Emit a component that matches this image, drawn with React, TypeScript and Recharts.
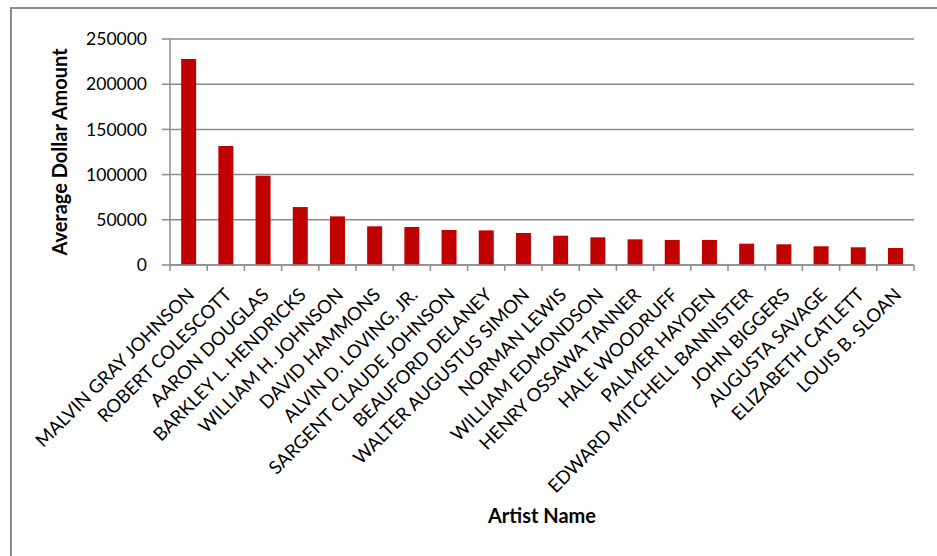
import { BarChart, Bar, XAxis, YAxis, CartesianGrid } from 'recharts'

const artists = [
  'MALVIN GRAY JOHNSON',
  'ROBERT COLESCOTT',
  'AARON DOUGLAS',
  'BARKLEY L. HENDRICKS',
  'WILLIAM H. JOHNSON',
  'DAVID HAMMONS',
  'ALVIN D. LOVING, JR.',
  'SARGENT CLAUDE JOHNSON',
  'BEAUFORD DELANEY',
  'WALTER AUGUSTUS SIMON',
  'NORMAN LEWIS',
  'WILLIAM EDMONDSON',
  'HENRY OSSAWA TANNER',
  'HALE WOODRUFF',
  'PALMER HAYDEN',
  'EDWARD MITCHELL BANNISTER',
  'JOHN BIGGERS',
  'AUGUSTA SAVAGE',
  'ELIZABETH CATLETT',
  'LOUIS B. SLOAN',
]

const averageAmounts = [
  227800, 131600, 98800, 64100, 53800, 42800, 42000, 38700, 38300, 35400,
  32400, 30600, 28400, 27700, 27700, 23600, 22900, 20700, 19600, 18800,
]

const yTicks = [0, 50000, 100000, 150000, 200000, 250000]

const data = artists.map((name, i) => ({ name, amount: averageAmounts[i] }))

const W = 937
const H = 556
const PLOT_TOP = 39
const PLOT_BOTTOM = 265
const PLOT_LEFT = 170
const PLOT_RIGHT = 914
const BAND = (PLOT_RIGHT - PLOT_LEFT) / artists.length
const FONT = 'Lato, "Liberation Sans", sans-serif'
const AXIS_GRAY = '#8c8c8c'

// category ticks sit between the bars, like the spreadsheet original
function ArtistTick({ x, y, payload, index }: any) {
  const half = BAND / 2
  const tx = x + 7
  const ty = y + 31
  return (
    <g>
      <line x1={x - half} y1={y} x2={x - half} y2={y + 6} stroke={AXIS_GRAY} strokeWidth={1.5} />
      {index === artists.length - 1 && (
        <line x1={x + half} y1={y} x2={x + half} y2={y + 6} stroke={AXIS_GRAY} strokeWidth={1.5} />
      )}
      <text
        x={tx}
        y={ty}
        transform={`rotate(-45, ${tx}, ${ty})`}
        textAnchor="end"
        fontFamily={FONT}
        fontSize={18.5}
        fill="#000"
      >
        {payload.value}
      </text>
    </g>
  )
}

const YTitle = ({ viewBox }: any) => {
  const cx = 59
  const cy = viewBox.y + viewBox.height / 2
  return (
    <text
      x={cx}
      y={cy}
      transform={`rotate(-90, ${cx}, ${cy})`}
      textAnchor="middle"
      dominantBaseline="central"
      fontFamily={FONT}
      fontWeight="bold"
      fontSize={20}
      fill="#000"
    >
      Average Dollar Amount
    </text>
  )
}

const XTitle = ({ viewBox }: any) => (
  <text
    x={viewBox.x + viewBox.width / 2}
    y={515}
    textAnchor="middle"
    dominantBaseline="central"
    fontFamily={FONT}
    fontWeight="bold"
    fontSize={20}
    fill="#000"
  >
    Artist Name
  </text>
)

export default function App() {
  return (
    <div
      style={{
        position: 'fixed',
        top: 0,
        left: 0,
        width: W,
        height: H,
        overflow: 'hidden',
        background: '#fff',
      }}
    >
      <div
        style={{
          position: 'absolute',
          left: 10,
          top: 7,
          width: W,
          height: H,
          border: `2px solid ${AXIS_GRAY}`,
        }}
      />
      <div style={{ position: 'absolute', left: 0, top: 0 }}>
        <BarChart
          width={W}
          height={H}
          data={data}
          margin={{ top: PLOT_TOP, right: W - PLOT_RIGHT, left: 0, bottom: 0 }}
          barCategoryGap="30%"
        >
          <CartesianGrid vertical={false} stroke={AXIS_GRAY} strokeWidth={1.5} />
          <XAxis
            dataKey="name"
            interval={0}
            height={H - PLOT_BOTTOM}
            tickLine={false}
            tickSize={0}
            tickMargin={0}
            axisLine={{ stroke: AXIS_GRAY, strokeWidth: 1.5 }}
            tick={<ArtistTick />}
            label={<XTitle />}
          />
          <YAxis
            width={PLOT_LEFT}
            domain={[0, 250000]}
            ticks={yTicks}
            interval={0}
            tickSize={8}
            tickMargin={15}
            tickLine={{ stroke: AXIS_GRAY, strokeWidth: 1.5 }}
            axisLine={{ stroke: AXIS_GRAY, strokeWidth: 1.5 }}
            tick={{ fill: '#000', fontFamily: FONT, fontSize: 17.5 }}
            label={<YTitle />}
          />
          <Bar dataKey="amount" fill="#C00000" isAnimationActive={false} />
        </BarChart>
      </div>
    </div>
  )
}
